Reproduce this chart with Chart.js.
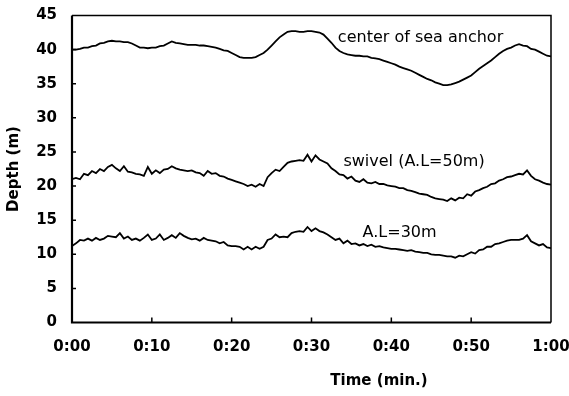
<!DOCTYPE html>
<html>
<head>
<meta charset="utf-8">
<script src="https://cdn.jsdelivr.net/npm/chart.js@4/dist/chart.umd.min.js"></script>
<style>
html,body{margin:0;padding:0;background:#fff;}
#wrap{width:569px;height:396px;position:relative;}
</style>
</head>
<body>
<div id="wrap"><canvas id="c" width="569" height="396"></canvas></div>
<script>
// time step between samples (minutes) and x tick labels
const timeStepMin = 0.5;
const xTickLabels = ["0:00","0:10","0:20","0:30","0:40","0:50","1:00"];
const yTicks = [0,5,10,15,20,25,30,35,40,45];

const seaAnchor = [
40.0,40.0,40.1,40.3,40.3,40.5,40.6,40.9,41.0,41.2,
41.3,41.2,41.2,41.1,41.1,40.9,40.6,40.3,40.3,40.2,
40.3,40.3,40.5,40.6,40.9,41.2,41.0,40.9,40.8,40.7,
40.7,40.7,40.6,40.6,40.5,40.4,40.3,40.1,39.9,39.8,
39.5,39.2,38.9,38.8,38.8,38.8,38.9,39.2,39.5,40.0,
40.6,41.2,41.8,42.2,42.6,42.7,42.7,42.6,42.6,42.7,
42.7,42.6,42.5,42.2,41.6,41.0,40.3,39.8,39.5,39.3,
39.2,39.1,39.1,39.0,39.0,38.8,38.7,38.6,38.4,38.2,
38.0,37.8,37.5,37.3,37.1,36.9,36.6,36.3,36.0,35.7,
35.5,35.2,35.0,34.8,34.8,34.9,35.1,35.3,35.6,35.9,
36.2,36.7,37.2,37.6,38.0,38.4,38.9,39.4,39.8,40.1,
40.3,40.6,40.8,40.6,40.5,40.1,40.0,39.7,39.4,39.1,
39.0];

const swivel = [
21.0,21.2,21.0,21.8,21.6,22.2,21.9,22.5,22.2,22.8,
23.1,22.6,22.2,22.9,22.1,22.0,21.8,21.7,21.5,22.8,
21.8,22.3,21.9,22.4,22.5,22.9,22.6,22.4,22.3,22.2,
22.3,22.0,21.9,21.5,22.2,21.8,21.9,21.5,21.4,21.1,
20.9,20.7,20.5,20.3,20.0,20.2,19.9,20.3,20.0,21.3,
21.9,22.4,22.2,22.8,23.4,23.6,23.7,23.8,23.7,24.6,
23.6,24.5,23.9,23.6,23.3,22.6,22.2,21.7,21.6,21.1,
21.4,20.8,20.6,21.0,20.5,20.4,20.6,20.3,20.3,20.1,
20.0,19.9,19.7,19.7,19.4,19.3,19.1,18.9,18.8,18.7,
18.4,18.2,18.1,18.0,17.8,18.2,17.9,18.3,18.2,18.8,
18.6,19.2,19.4,19.7,19.9,20.3,20.4,20.8,21.0,21.3,
21.4,21.6,21.8,21.7,22.3,21.5,21.0,20.8,20.5,20.3,
20.2];

const anchorLine30 = [
11.2,11.6,12.1,12.0,12.3,12.0,12.4,12.1,12.3,12.7,
12.6,12.5,13.1,12.3,12.6,12.1,12.3,12.0,12.4,12.9,
12.1,12.3,12.9,12.1,12.4,12.8,12.4,13.1,12.7,12.4,
12.2,12.3,12.0,12.4,12.1,12.0,11.9,11.6,11.8,11.3,
11.2,11.2,11.1,10.7,11.1,10.7,11.1,10.8,11.1,12.1,
12.3,12.9,12.5,12.6,12.5,13.1,13.3,13.4,13.3,14.0,
13.4,13.8,13.4,13.2,12.9,12.5,12.1,12.3,11.6,12.0,
11.5,11.6,11.3,11.5,11.2,11.4,11.1,11.2,11.0,10.9,
10.8,10.8,10.7,10.6,10.5,10.6,10.4,10.3,10.2,10.2,
10.0,9.9,9.9,9.8,9.7,9.7,9.5,9.8,9.7,10.0,
10.3,10.1,10.6,10.7,11.1,11.1,11.5,11.6,11.8,12.0,
12.1,12.1,12.1,12.3,12.8,11.9,11.6,11.3,11.5,11.0,
10.9];

const seriesNames = ["center of sea anchor","swivel (A.L=50m)","A.L=30m"];
// label anchor points in data units [minute, depth]
const labelAnchors = [[33.3,41.7],[34.0,23.5],[36.4,13.1]];

function toPoints(arr){ return arr.map((v,i)=>({x:i*timeStepMin,y:v})); }

const decor = {
  id:'decor',
  afterDraw(chart){
    const {ctx, chartArea:a, scales:{x,y}} = chart;
    ctx.save();
    ctx.strokeStyle='#000';
    // thin top/right frame
    ctx.lineWidth=1.5;
    ctx.beginPath();
    ctx.moveTo(a.left,a.top); ctx.lineTo(a.right,a.top); ctx.lineTo(a.right,a.bottom);
    ctx.stroke();
    // thick left/bottom axes
    ctx.lineWidth=2.2;
    ctx.beginPath();
    ctx.moveTo(a.left,a.top); ctx.lineTo(a.left,a.bottom); ctx.lineTo(a.right,a.bottom);
    ctx.stroke();
    // inward ticks
    ctx.lineWidth=1.5;
    ctx.beginPath();
    for(let i=1;i<xTickLabels.length-1;i++){
      const px=x.getPixelForValue(i*10);
      ctx.moveTo(px,a.bottom); ctx.lineTo(px,a.bottom-5);
    }
    yTicks.forEach(v=>{
      if(v===0||v===45) return;
      const py=y.getPixelForValue(v);
      ctx.moveTo(a.left,py); ctx.lineTo(a.left+4,py);
    });
    ctx.stroke();
    // series labels
    ctx.fillStyle='#000';
    ctx.font='16px "DejaVu Sans"';
    ctx.textBaseline='middle';
    ctx.textAlign='left';
    seriesNames.forEach((n,i)=>{
      ctx.fillText(n, x.getPixelForValue(labelAnchors[i][0]), y.getPixelForValue(labelAnchors[i][1]));
    });
    // axis titles
    ctx.font='bold 15px "DejaVu Sans"';
    ctx.textAlign='center';
    ctx.fillText('Time (min.)', a.left+307, 381);
    ctx.save();
    ctx.translate(14, 169);
    ctx.rotate(-Math.PI/2);
    ctx.fillText('Depth (m)', 0, 0);
    ctx.restore();
    ctx.restore();
  }
};

const ds = (d)=>({data:toPoints(d), borderColor:'#000', borderWidth:1.8, pointRadius:0, tension:0, fill:false});

new Chart(document.getElementById('c'), {
  type:'line',
  data:{datasets:[ds(seaAnchor), ds(swivel), ds(anchorLine30)]},
  options:{
    responsive:false,
    animation:false,
    events:[],
    layout:{padding:{left:0,right:18,top:15.5,bottom:0}},
    plugins:{legend:{display:false}, tooltip:{enabled:false}},
    scales:{
      x:{
        type:'linear', min:0, max:60,
        grid:{display:false, drawTicks:false},
        border:{display:false},
        ticks:{stepSize:10, padding:16, maxRotation:0, color:'#000', font:{family:'"DejaVu Sans"', size:15, weight:'bold'},
          callback:(v)=>xTickLabels[Math.round(v/10)]},
        afterFit(s){ s.height = 73.5; s.paddingLeft=0; s.paddingRight=0; s.paddingTop=0; s.paddingBottom=0; }
      },
      y:{
        min:0, max:45,
        grid:{display:false, drawTicks:false},
        border:{display:false},
        ticks:{stepSize:5, padding:15, color:'#000', font:{family:'"DejaVu Sans"', size:15, weight:'bold'}},
        afterFit(s){ s.width = 72; s.paddingLeft=0; s.paddingRight=0; s.paddingTop=0; s.paddingBottom=0; }
      }
    }
  },
  plugins:[decor]
});
</script>
</body>
</html>
